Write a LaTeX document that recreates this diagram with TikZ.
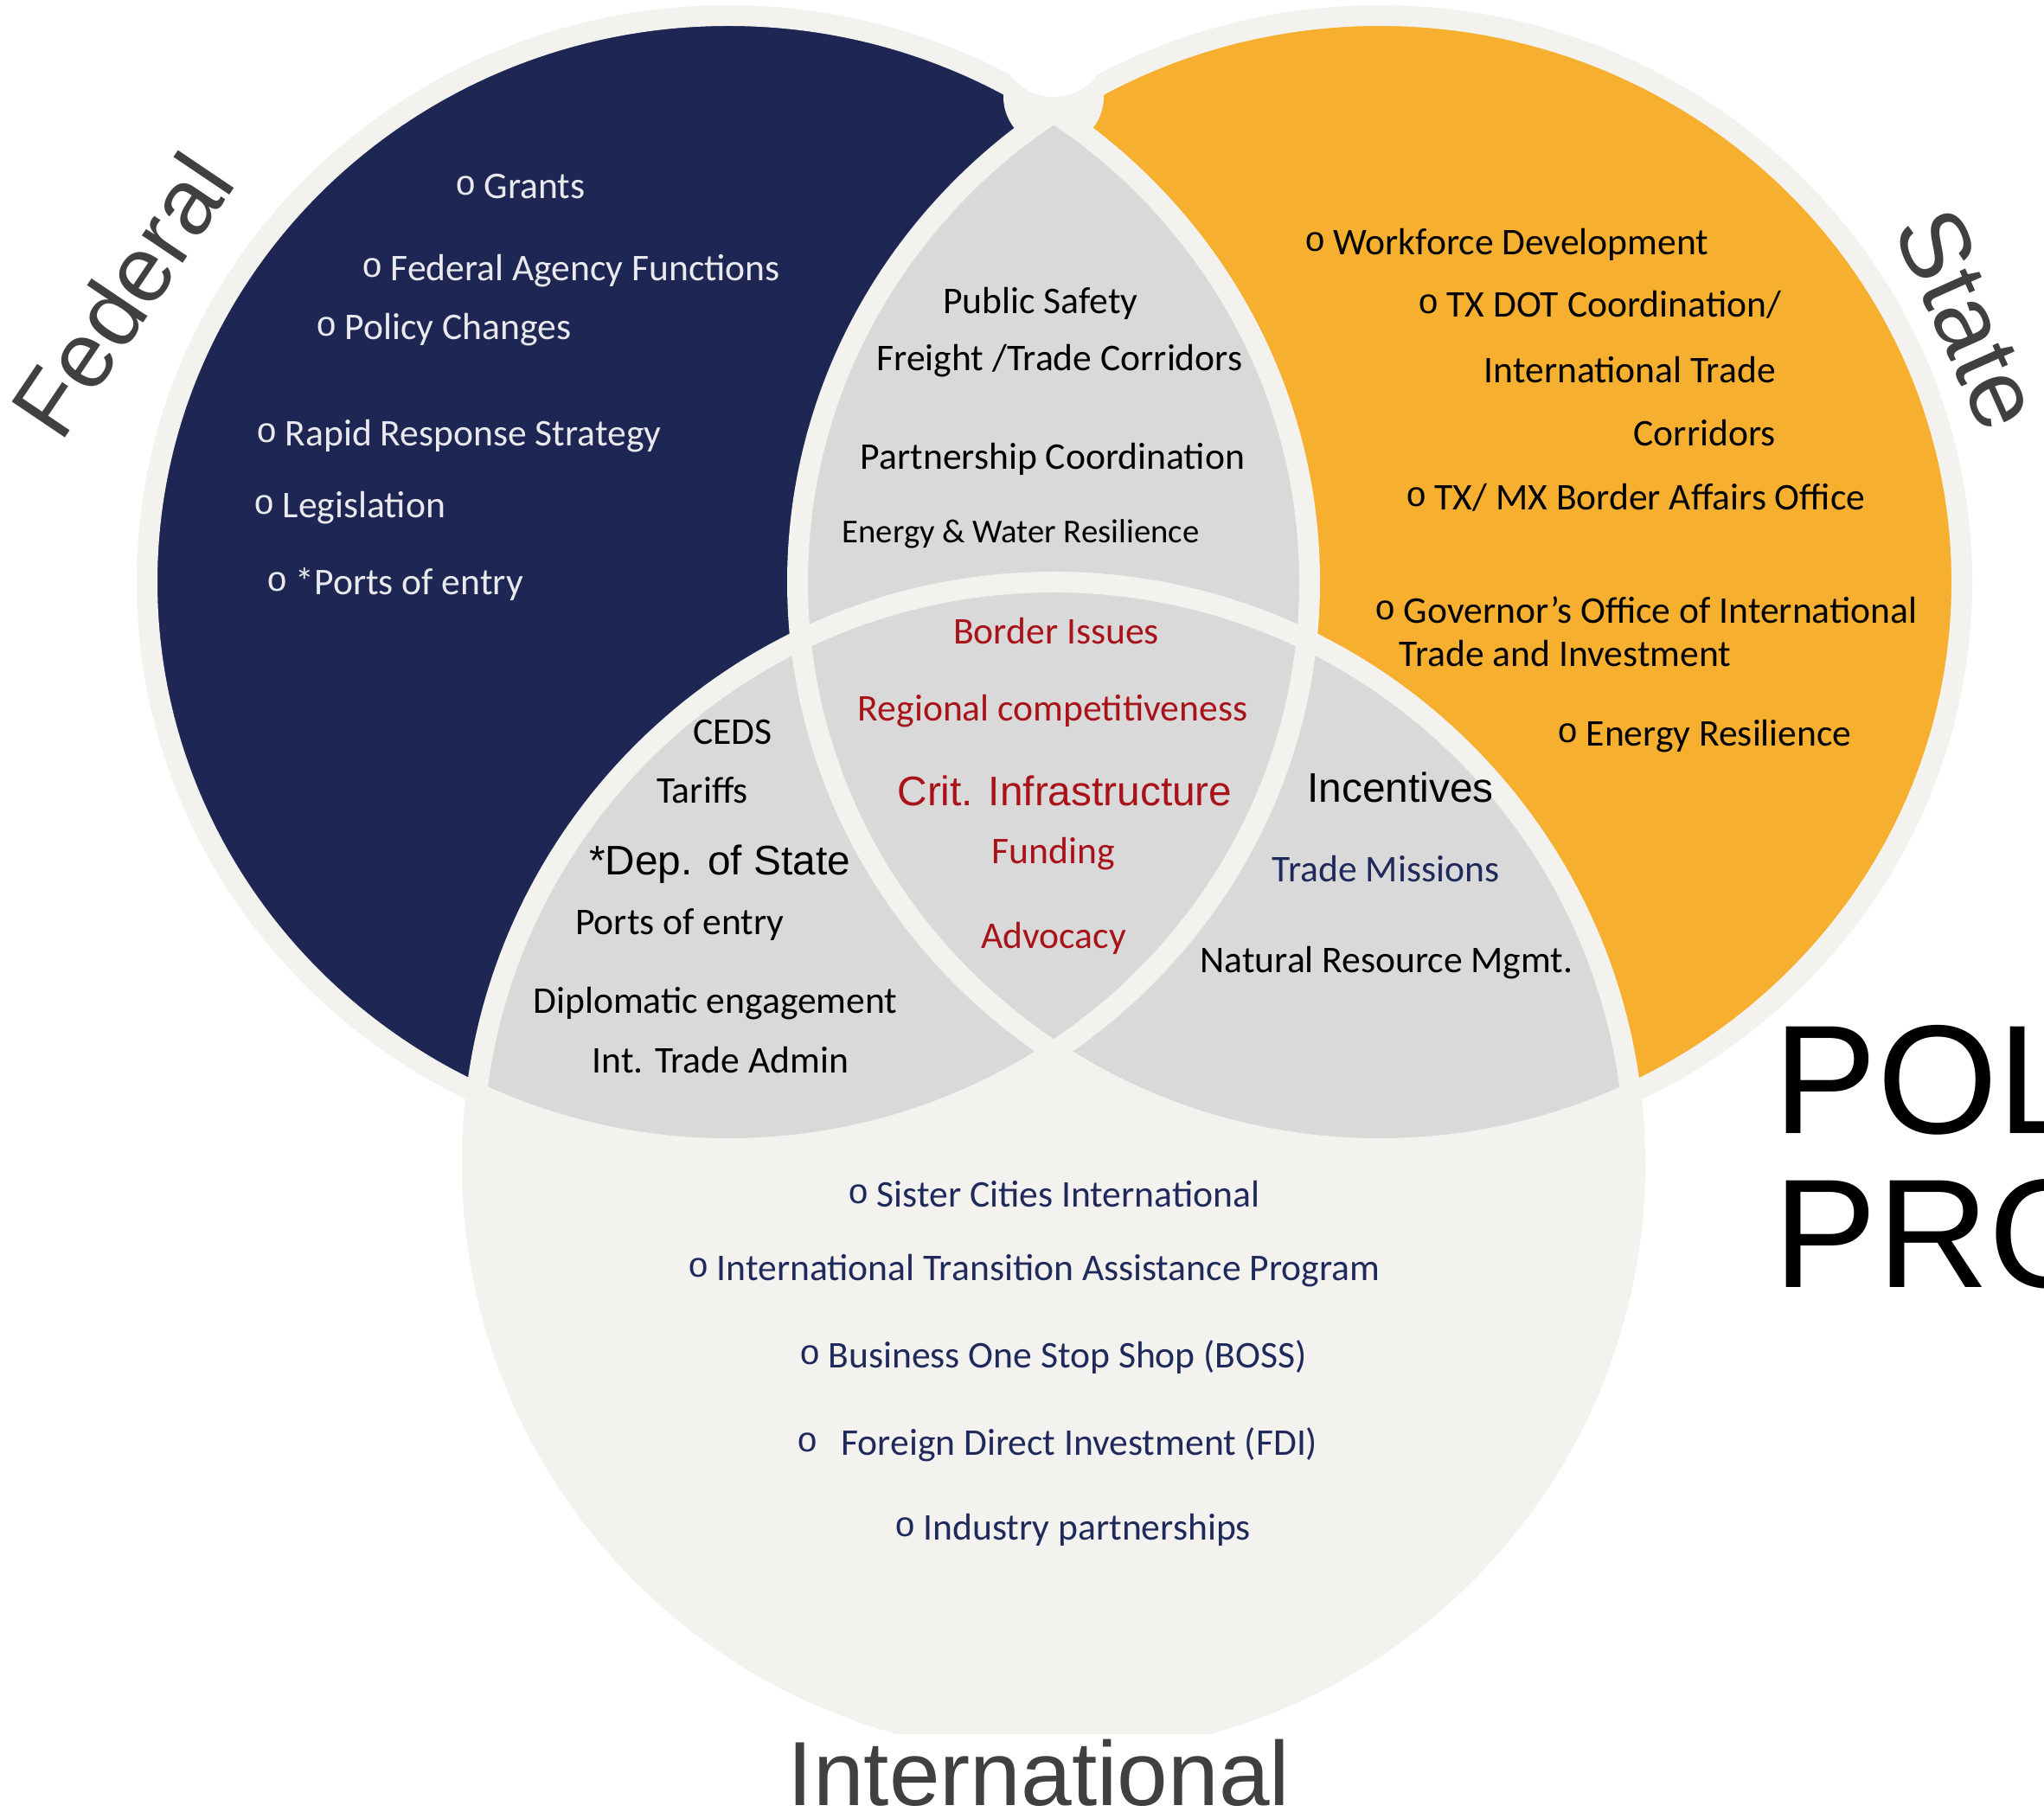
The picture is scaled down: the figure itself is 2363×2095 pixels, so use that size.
\documentclass[tikz,border=0pt]{standalone}
\usepackage{fontspec}
\setmainfont{Carlito}
\newfontfamily\arialfont{Liberation Sans}
\newfontfamily\bulletfont{Liberation Mono}
\definecolor{fednavy}{RGB}{30,39,83}
\definecolor{stateorange}{RGB}{246,175,46}
\definecolor{lensgray}{RGB}{217,217,217}
\definecolor{rimbeige}{RGB}{244,242,238}
\definecolor{issuered}{RGB}{168,18,24}
\definecolor{navytext}{RGB}{31,41,92}
\definecolor{labelgray}{RGB}{64,64,64}
\definecolor{fedwhite}{RGB}{234,234,238}
\newcommand{\bul}{\raisebox{1.2pt}{\bulletfont\fontsize{11.5}{12}\selectfont o}\hspace{2.5pt}}
\newcommand{\fedpath}{(842,673) ellipse [x radius=672, y radius=655]}
\newcommand{\statepath}{(1595,673) ellipse [x radius=673, y radius=655]}
\newcommand{\intlpath}{(1218,1345) circle [radius=672]}

\begin{document}
\begin{tikzpicture}[x=0.1mm, y=-0.1mm]
\tikzstyle{rim} = [draw=rimbeige, line width=2.4mm]
\tikzstyle{txt} = [inner sep=0pt, font=\fontsize{12.4}{14}\selectfont]
\tikzstyle{item} = [txt, anchor=mid west]
\tikzstyle{sans} = [inner sep=0pt, font=\arialfont\fontsize{13.6}{16}\selectfont]
\tikzstyle{heading} = [inner sep=0pt, text=labelgray, font=\arialfont\fontsize{30.6}{36}\selectfont]

\useasboundingbox (0,0) rectangle (2363,2095);

\begin{scope}
\clip (0,0) rectangle (2363,2004);
\fill[rimbeige] (1218,1345) circle [radius=684];
\end{scope}
\fill[fednavy] \fedpath;
\fill[stateorange] \statepath;
\begin{scope}
\clip \fedpath;
\fill[lensgray] \statepath;
\fill[lensgray] \intlpath;
\end{scope}
\begin{scope}
\clip \statepath;
\fill[lensgray] \intlpath;
\end{scope}
\draw[rim] \fedpath;
\draw[rim] \statepath;
\begin{scope}
\clip (0,0) rectangle (2363,2004);
\draw[rim] \intlpath;
\end{scope}

\fill[rimbeige] (1218,112) circle [radius=58];
\begin{scope}
\clip (842,673) ellipse [x radius=660, y radius=643];
\clip (1595,673) ellipse [x radius=661, y radius=643];
\fill[lensgray] (1100,0) rectangle (1340,300);
\end{scope}
\fill[white] (1218,50) circle [radius=62];

\node[item, text=fedwhite] (grants) at (526,221) {\bul Grants};
\node[item, text=fedwhite] (agency) at (418,316) {\bul Federal Agency Functions};
\node[item, text=fedwhite] (policy) at (365,384) {\bul Policy Changes};
\node[item, text=fedwhite] (rapid) at (296,507) {\bul Rapid Response Strategy};
\node[item, text=fedwhite] (legis) at (293,590) {\bul Legislation};
\node[item, text=fedwhite] (fedports) at (308,679) {\bul *Ports of entry};

\node[txt, anchor=mid] (safety) at (1203,354) {Public Safety};
\node[txt, anchor=mid] (freight) at (1225,420) {Freight /Trade Corridors};
\node[txt, anchor=mid] (partner) at (1217,534) {Partnership Coordination};
\node[txt, anchor=mid, font=\fontsize{11}{13}\selectfont] (energywater) at (1180,619) {Energy \& Water Resilience};

\node[item] (workforce) at (1508,286) {\bul Workforce Development};
\node[item] (txdot) at (1639,358) {\bul TX DOT Coordination/};
\node[item] (txdot2) at (1715,434) {International Trade};
\node[item] (txdot3) at (1888,507) {Corridors};
\node[item] (border) at (1625,581) {\bul TX/ MX Border Affairs Office};
\node[item] (governor) at (1589,712) {\bul Governor’s Office of International};
\node[item] (governor2) at (1617,762) {Trade and Investment};
\node[item] (stateenergy) at (1800,854) {\bul Energy Resilience};

\node[txt, anchor=mid, text=issuered] (issues) at (1221,736) {Border Issues};
\node[txt, anchor=mid, text=issuered] (regional) at (1217,825) {Regional competitiveness};
\node[sans, anchor=mid, text=issuered] (crit) at (1231,923) {Crit. Infrastructure};
\node[txt, anchor=mid, text=issuered] (funding) at (1218,990) {Funding};
\node[txt, anchor=mid, text=issuered] (advocacy) at (1218,1088) {Advocacy};

\node[txt, anchor=mid] (ceds) at (847,852) {CEDS};
\node[txt, anchor=mid] (tariffs) at (812,920) {Tariffs};
\node[sans, anchor=mid] (depstate) at (832,1003) {*Dep. of State};
\node[txt, anchor=mid] (ports) at (786,1072) {Ports of entry};
\node[txt, anchor=mid] (diplo) at (827,1163) {Diplomatic engagement};
\node[txt, anchor=mid] (ita) at (833,1232) {Int. Trade Admin};

\node[sans, anchor=mid] (incent) at (1619,919) {Incentives};
\node[txt, anchor=mid, text=navytext] (missions) at (1602,1011) {Trade Missions};
\node[txt, anchor=mid] (natural) at (1603,1116) {Natural Resource Mgmt.};

\node[item, text=navytext] (sister) at (980,1387) {\bul Sister Cities International};
\node[item, text=navytext] (itap) at (795,1472) {\bul International Transition Assistance Program};
\node[item, text=navytext] (boss) at (924,1573) {\bul Business One Stop Shop (BOSS)};
\node[item, text=navytext] (fdi) at (921,1674) {\bul\hspace{5pt}Foreign Direct Investment (FDI)};
\node[item, text=navytext] (industry) at (1034,1772) {\bul Industry partnerships};

\node[heading, rotate=56] (federal) at (141,341) {Federal};
\node[heading, rotate=-66, font=\arialfont\fontsize{32}{38}\selectfont] (state) at (2276,369) {State};
\node[heading, font=\arialfont\fontsize{30}{36}\selectfont] (intl) at (1201,2050) {International};

\begin{scope}
\clip (0,0) rectangle (2363,2095);
\node[inner sep=0pt, anchor=mid west, font=\arialfont\fontsize{51}{60}\selectfont] (pol) at (2050,1302) {POL};
\node[inner sep=0pt, anchor=mid west, font=\arialfont\fontsize{51}{60}\selectfont] (pro) at (2050,1480) {PRO};
\end{scope}
\end{tikzpicture}
\end{document}
